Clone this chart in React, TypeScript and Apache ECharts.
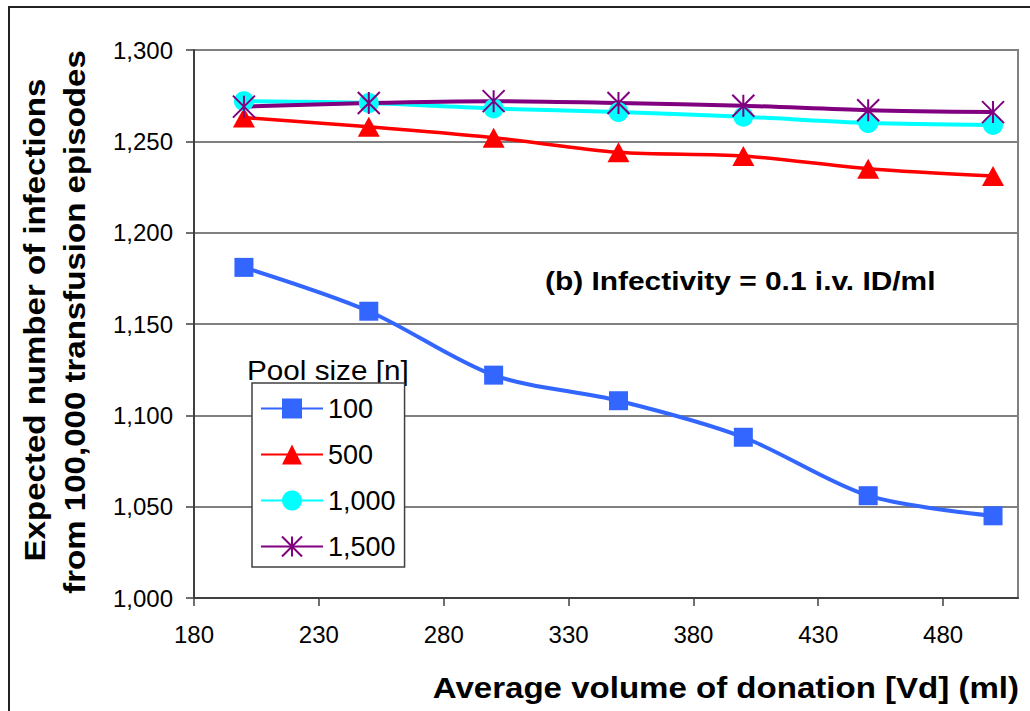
import React, { useEffect, useRef } from "react";
import * as echarts from "echarts";

// Average volume of donation (ml)
const volumes = [200, 250, 300, 350, 400, 450, 500];
// Expected infections per 100,000 transfusion episodes, by pool size
const pool100 = [1181, 1157, 1122, 1108, 1088, 1056, 1045];
const pool500 = [1263, 1258, 1252, 1244, 1242, 1235, 1231];
const pool1000 = [1272, 1271, 1268, 1266, 1263.5, 1260, 1259];
const pool1500 = [1269, 1271, 1272, 1271, 1269.5, 1267, 1266];

const seriesNames = ["100", "500", "1,000", "1,500"];
const legendTitle = "Pool size [n]";
const xTitle = "Average volume of donation [Vd] (ml)";
const yTitleLines = ["Expected number of infections", "from 100,000 transfusion episodes"];
const annotation = "(b) Infectivity = 0.1 i.v. ID/ml";

const FONT = '"Liberation Sans", Arial, Helvetica, sans-serif';
const STAR = "path://M0,0L20,20M20,0L0,20M10,0L10,20";

export default function App() {
  const ref = useRef<HTMLDivElement>(null);

  useEffect(() => {
    const chart = echarts.init(ref.current!, null, { renderer: "svg" });
    const pair = (ys: number[]) => volumes.map((v, i) => [v, ys[i]]);

    chart.setOption({
      animation: false,
      backgroundColor: "#ffffff",
      textStyle: { fontFamily: FONT },
      grid: {
        left: 194,
        right: 12,
        top: 50,
        bottom: 113,
        show: true,
        borderColor: "#808080",
        borderWidth: 2,
        backgroundColor: "transparent",
      },
      xAxis: {
        type: "value",
        min: 180,
        max: 510,
        interval: 50,
        axisLine: { show: true, onZero: false, lineStyle: { color: "#404040", width: 2 } },
        axisTick: { show: true, length: 8, lineStyle: { color: "#404040", width: 1.5 } },
        axisLabel: {
          fontSize: 24,
          color: "#000",
          margin: 24,
          fontFamily: FONT,
          showMaxLabel: false,
        },
        splitLine: { show: false },
      },
      yAxis: {
        type: "value",
        min: 1000,
        max: 1300,
        interval: 50,
        axisLine: { show: true, lineStyle: { color: "#404040", width: 2 } },
        axisTick: { show: true, length: 8, lineStyle: { color: "#404040", width: 1.5 } },
        axisLabel: {
          fontSize: 24,
          color: "#000",
          margin: 21,
          fontFamily: FONT,
          formatter: (v: number) => v.toLocaleString("en-US"),
        },
        splitLine: { show: true, lineStyle: { color: "#808080", width: 2 } },
      },
      legend: {
        orient: "vertical",
        left: 252,
        top: 383,
        data: seriesNames,
        itemWidth: 62,
        itemHeight: 25,
        itemGap: 19,
        padding: [12, 9, 7, 8],
        backgroundColor: "#ffffff",
        borderColor: "#404040",
        borderWidth: 1.5,
        textStyle: { fontSize: 27, color: "#000", fontFamily: FONT },
      },
      series: [
        {
          name: seriesNames[0],
          type: "line",
          data: pair(pool100),
          smooth: 0.3,
          symbol: "rect",
          symbolSize: 19,
          itemStyle: { color: "#3366FF" },
          lineStyle: { color: "#3366FF", width: 4 },
        },
        {
          name: seriesNames[1],
          type: "line",
          data: pair(pool500),
          smooth: 0.3,
          symbol: "triangle",
          symbolSize: [22, 20],
          itemStyle: { color: "#FF0000" },
          lineStyle: { color: "#FF0000", width: 3.5 },
        },
        {
          name: seriesNames[2],
          type: "line",
          data: pair(pool1000),
          smooth: 0.3,
          symbol: "circle",
          symbolSize: 20,
          itemStyle: { color: "#00FFFF" },
          lineStyle: { color: "#00FFFF", width: 4 },
        },
        {
          name: seriesNames[3],
          type: "line",
          data: pair(pool1500),
          smooth: 0.3,
          symbol: STAR,
          symbolSize: 22,
          itemStyle: { color: "#800080", borderColor: "#800080", borderWidth: 2 },
          lineStyle: { color: "#800080", width: 4 },
        },
      ],
      graphic: [
        {
          type: "rect",
          shape: { x: 9, y: 7, width: 1040, height: 720 },
          style: { fill: "none", stroke: "#222222", lineWidth: 2 },
          silent: true,
        },
        {
          type: "text",
          x: 35,
          y: 320,
          rotation: Math.PI / 2,
          scaleX: 1.14,
          style: {
            text: yTitleLines[0],
            font: `bold 29px ${FONT}`,
            fill: "#000",
            align: "center",
            verticalAlign: "middle",
          },
        },
        {
          type: "text",
          x: 75,
          y: 322,
          rotation: Math.PI / 2,
          scaleX: 1.14,
          style: {
            text: yTitleLines[1],
            font: `bold 29px ${FONT}`,
            fill: "#000",
            align: "center",
            verticalAlign: "middle",
          },
        },
        {
          type: "text",
          x: 1019,
          y: 688,
          scaleX: 1.14,
          style: {
            text: xTitle,
            font: `bold 29px ${FONT}`,
            fill: "#000",
            align: "right",
            verticalAlign: "middle",
          },
        },
        {
          type: "text",
          x: 545,
          y: 281,
          scaleX: 1.15,
          style: {
            text: annotation,
            font: `bold 26px ${FONT}`,
            fill: "#000",
            align: "left",
            verticalAlign: "middle",
          },
        },
        {
          type: "text",
          x: 247,
          y: 370,
          scaleX: 1.06,
          style: {
            text: legendTitle,
            font: `28px ${FONT}`,
            fill: "#000",
            align: "left",
            verticalAlign: "middle",
          },
        },
      ],
    });

    return () => chart.dispose();
  }, []);

  return (
    <div
      ref={ref}
      style={{ position: "absolute", left: 0, top: 0, width: 1030, height: 711, background: "#fff" }}
    />
  );
}
